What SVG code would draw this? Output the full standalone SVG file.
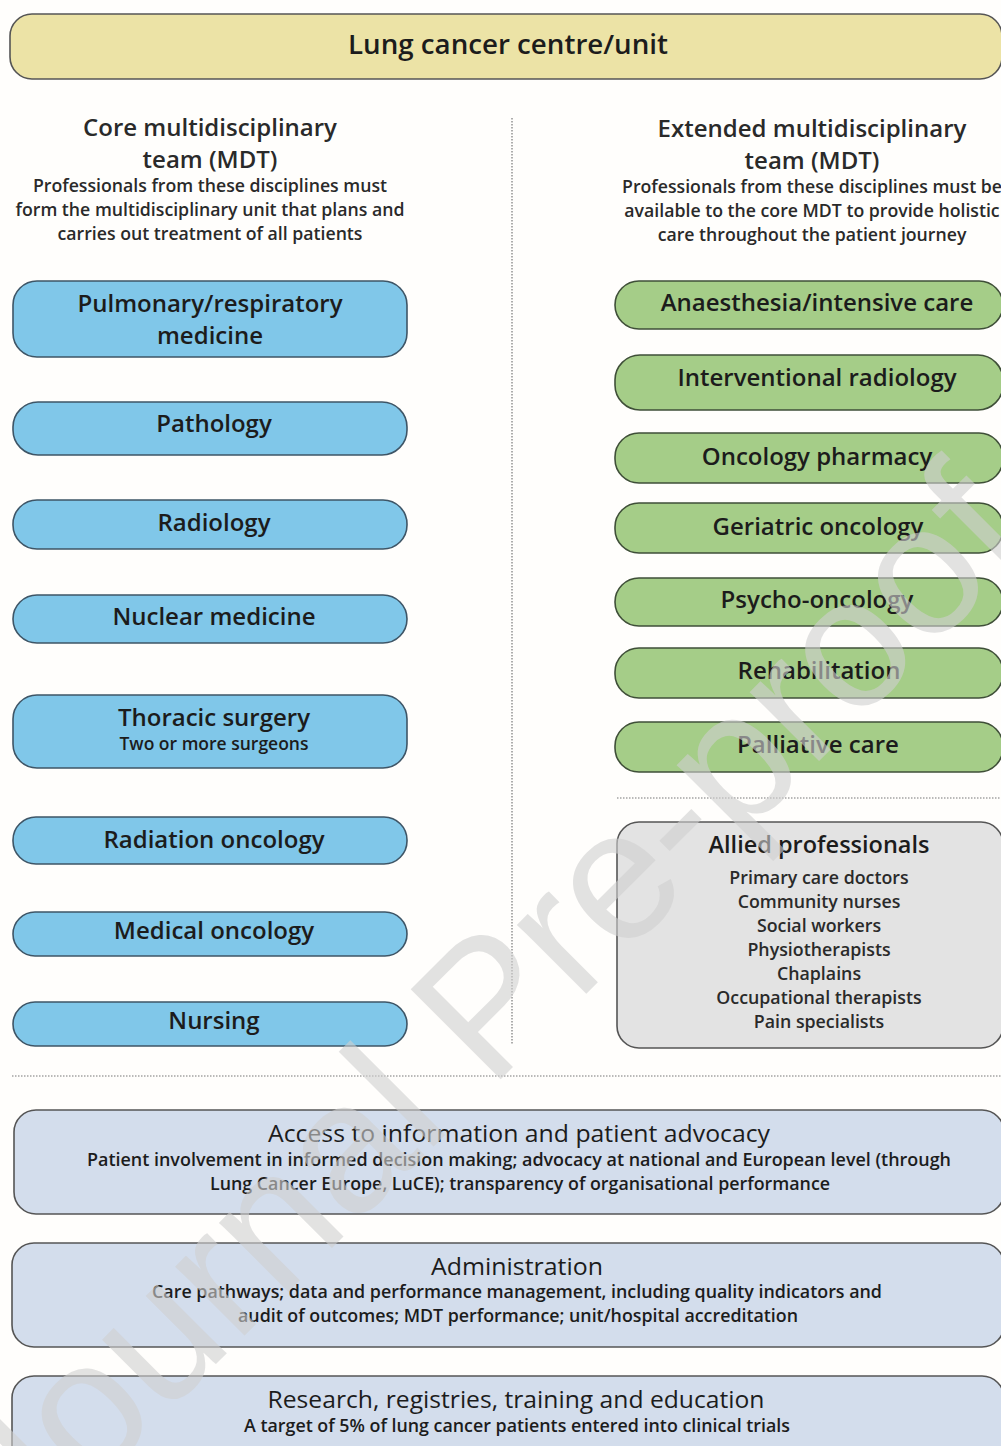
<svg xmlns="http://www.w3.org/2000/svg" width="1001" height="1446" viewBox="0 0 1001 1446">
<style>
text{font-family:"Open Sans","Liberation Sans",sans-serif;fill:#1c1c1c;text-anchor:middle}
.lbl{font-size:24px;font-weight:600}
.hd{font-size:24px;font-weight:600;fill:#2a2a2a}
.ds{font-size:17.7px;font-weight:600;fill:#2a2a2a}
.sm{font-size:17.5px;font-weight:600}
.al{font-size:17.8px;font-weight:600;fill:#2a2a2a}
.bt{font-size:24px;font-weight:500}
.bd{font-size:18px;font-weight:600}
.blue{fill:#80c7e9;stroke:#3e5566;stroke-width:1.6}
.green{fill:#a5cd88;stroke:#3f4f38;stroke-width:1.6}
.gray{fill:#e3e3e3;stroke:#555;stroke-width:1.6}
.slate{fill:#d3ddec;stroke:#555;stroke-width:1.6}
.yel{fill:#ece3a6;stroke:#555;stroke-width:1.6}
.dot{stroke:#777;stroke-width:1.2;stroke-dasharray:1.5 1.5;fill:none}
</style>
<rect width="1001" height="1446" fill="#fffefc"/>
<g id="connectors">
<line class="dot" x1="512" y1="118" x2="512" y2="1045"/>
<line class="dot" x1="617" y1="798" x2="1001" y2="798"/>
<line class="dot" x1="12" y1="1076" x2="1001" y2="1076"/>
</g>
<g id="centre">
<rect class="yel" x="10" y="14" width="992" height="65" rx="22"/>
<text x="508" y="54" style="font-size:27px;font-weight:600" textLength="320" lengthAdjust="spacingAndGlyphs">Lung cancer centre/unit</text>
</g>
<g id="core-heading">
<text class="hd" x="210" y="136">Core multidisciplinary</text>
<text class="hd" x="210" y="168">team (MDT)</text>
<text class="ds" x="210" y="192">Professionals from these disciplines must</text>
<text class="ds" x="210" y="216">form the multidisciplinary unit that plans and</text>
<text class="ds" x="210" y="240">carries out treatment of all patients</text>
</g>
<g id="extended-heading">
<text class="hd" x="812" y="137">Extended multidisciplinary</text>
<text class="hd" x="812" y="169">team (MDT)</text>
<text class="ds" x="812" y="193">Professionals from these disciplines must be</text>
<text class="ds" x="812" y="217">available to the core MDT to provide holistic</text>
<text class="ds" x="812" y="241">care throughout the patient journey</text>
</g>
<g id="pulmonary"><rect class="blue" x="13" y="281" width="394" height="76" rx="24"/><text class="lbl" x="210" y="312">Pulmonary/respiratory</text><text class="lbl" x="210" y="344">medicine</text></g>
<g id="pathology"><rect class="blue" x="13" y="402" width="394" height="53" rx="25"/><text class="lbl" x="214" y="432">Pathology</text></g>
<g id="radiology"><rect class="blue" x="13" y="500" width="394" height="49" rx="24"/><text class="lbl" x="214" y="531">Radiology</text></g>
<g id="nuclear"><rect class="blue" x="13" y="595" width="394" height="48" rx="24"/><text class="lbl" x="214" y="625">Nuclear medicine</text></g>
<g id="thoracic"><rect class="blue" x="13" y="695" width="394" height="73" rx="24"/><text class="lbl" x="214" y="726">Thoracic surgery</text><text class="sm" x="214" y="750">Two or more surgeons</text></g>
<g id="radiation"><rect class="blue" x="13" y="817" width="394" height="47" rx="23"/><text class="lbl" x="214" y="848">Radiation oncology</text></g>
<g id="medical"><rect class="blue" x="13" y="912" width="394" height="44" rx="22"/><text class="lbl" x="214" y="939">Medical oncology</text></g>
<g id="nursing"><rect class="blue" x="13" y="1002" width="394" height="44" rx="22"/><text class="lbl" x="214" y="1029">Nursing</text></g>
<g id="anaesthesia"><rect class="green" x="615" y="281" width="388" height="48" rx="24"/><text class="lbl" x="817" y="311">Anaesthesia/intensive care</text></g>
<g id="interventional"><rect class="green" x="615" y="355" width="388" height="55" rx="25"/><text class="lbl" x="817" y="386">Interventional radiology</text></g>
<g id="pharmacy"><rect class="green" x="615" y="433" width="388" height="50" rx="24"/><text class="lbl" x="817" y="465">Oncology pharmacy</text></g>
<g id="geriatric"><rect class="green" x="615" y="503" width="388" height="50" rx="24"/><text class="lbl" x="818" y="535">Geriatric oncology</text></g>
<g id="psycho"><rect class="green" x="615" y="578" width="388" height="48" rx="24"/><text class="lbl" x="817" y="608">Psycho-oncology</text></g>
<g id="rehabilitation"><rect class="green" x="615" y="648" width="388" height="50" rx="24"/><text class="lbl" x="819" y="679">Rehabilitation</text></g>
<g id="palliative"><rect class="green" x="615" y="722" width="388" height="50" rx="24"/><text class="lbl" x="818" y="753">Palliative care</text></g>
<g id="allied">
<rect class="gray" x="617" y="822" width="386" height="226" rx="22"/>
<text class="lbl" x="819" y="853" style="font-size:23.5px">Allied professionals</text>
<text class="al" x="819" y="884">Primary care doctors</text>
<text class="al" x="819" y="908">Community nurses</text>
<text class="al" x="819" y="932">Social workers</text>
<text class="al" x="819" y="956">Physiotherapists</text>
<text class="al" x="819" y="980">Chaplains</text>
<text class="al" x="819" y="1004">Occupational therapists</text>
<text class="al" x="819" y="1028">Pain specialists</text>
</g>
<g id="access">
<rect class="slate" x="14" y="1110" width="990" height="104" rx="22"/>
<text class="bt" x="519" y="1142" textLength="502" lengthAdjust="spacingAndGlyphs">Access to information and patient advocacy</text>
<text class="bd" x="519" y="1166" textLength="864" lengthAdjust="spacingAndGlyphs">Patient involvement in informed decision making; advocacy at national and European level (through</text>
<text class="bd" x="520" y="1190" textLength="620" lengthAdjust="spacingAndGlyphs">Lung Cancer Europe, LuCE); transparency of organisational performance</text>
</g>
<g id="administration">
<rect class="slate" x="12" y="1243" width="992" height="104" rx="22"/>
<text class="bt" x="517" y="1275" textLength="172" lengthAdjust="spacingAndGlyphs">Administration</text>
<text class="bd" x="517" y="1298" textLength="730" lengthAdjust="spacingAndGlyphs">Care pathways; data and performance management, including quality indicators and</text>
<text class="bd" x="518" y="1322" textLength="560" lengthAdjust="spacingAndGlyphs">audit of outcomes; MDT performance; unit/hospital accreditation</text>
</g>
<g id="research">
<rect class="slate" x="12" y="1376" width="992" height="100" rx="22"/>
<text class="bt" x="516" y="1408" textLength="497" lengthAdjust="spacingAndGlyphs">Research, registries, training and education</text>
<text class="bd" x="517" y="1432" textLength="546" lengthAdjust="spacingAndGlyphs">A target of 5% of lung cancer patients entered into clinical trials</text>
</g>
<g id="watermark" opacity="0.6">
<text x="0" y="0" transform="translate(530,1050) rotate(-45)" style="font-family:'Liberation Sans',Arial,sans-serif;font-size:185px;fill:#d0d0d0;text-anchor:middle">Journal Pre-proof</text>
</g>
</svg>
